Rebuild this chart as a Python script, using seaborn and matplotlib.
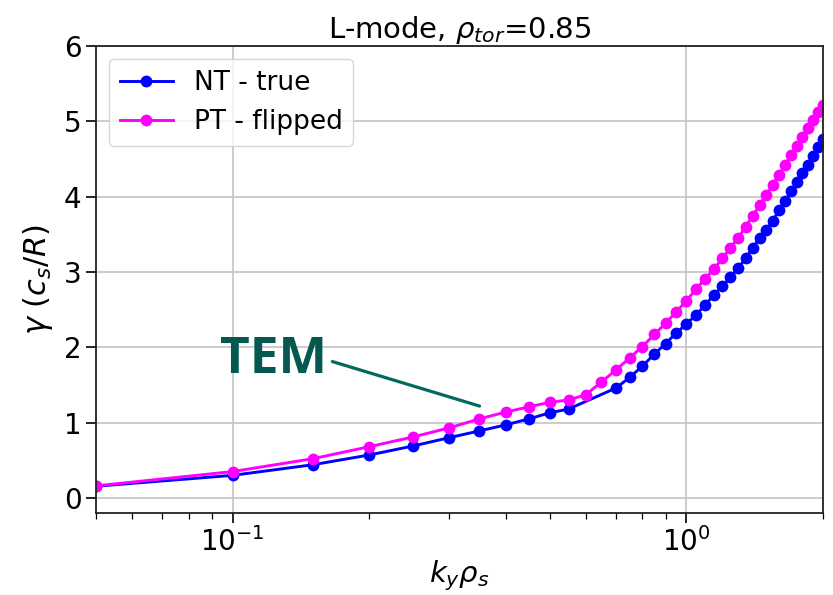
import matplotlib
matplotlib.use("Agg")
import matplotlib.pyplot as plt
import numpy as np
import pandas as pd
import seaborn as sns

# Wavenumber grids (NT scan has no points at 0.60 and 0.65)
ky_nt = [0.05, 0.10, 0.15, 0.20, 0.25, 0.30, 0.35, 0.40, 0.45, 0.50, 0.55,
         0.70, 0.75, 0.80, 0.85, 0.90, 0.95, 1.00, 1.05, 1.10, 1.15, 1.20,
         1.25, 1.30, 1.35, 1.40, 1.45, 1.50, 1.55, 1.60, 1.65, 1.70, 1.75,
         1.80, 1.85, 1.90, 1.95, 2.00]
gamma_nt = [0.155, 0.30, 0.44, 0.57, 0.69, 0.80, 0.89, 0.97, 1.05, 1.13, 1.18,
            1.46, 1.60, 1.75, 1.91, 2.05, 2.19, 2.31, 2.43, 2.56, 2.70, 2.81,
            2.93, 3.05, 3.18, 3.32, 3.45, 3.56, 3.68, 3.82, 3.94, 4.07, 4.19,
            4.31, 4.42, 4.54, 4.66, 4.77]

ky_pt = [0.05, 0.10, 0.15, 0.20, 0.25, 0.30, 0.35, 0.40, 0.45, 0.50, 0.55,
         0.60, 0.65, 0.70, 0.75, 0.80, 0.85, 0.90, 0.95, 1.00, 1.05, 1.10,
         1.15, 1.20, 1.25, 1.30, 1.35, 1.40, 1.45, 1.50, 1.55, 1.60, 1.65,
         1.70, 1.75, 1.80, 1.85, 1.90, 1.95, 2.00]
gamma_pt = [0.16, 0.35, 0.52, 0.68, 0.81, 0.93, 1.05, 1.14, 1.21, 1.27, 1.30,
            1.37, 1.54, 1.70, 1.86, 2.01, 2.17, 2.32, 2.47, 2.62, 2.77, 2.91,
            3.04, 3.18, 3.32, 3.45, 3.60, 3.74, 3.89, 4.02, 4.16, 4.29, 4.42,
            4.55, 4.67, 4.79, 4.91, 5.02, 5.12, 5.22]

series_labels = ["NT - true", "PT - flipped"]
series_colors = ["blue", "magenta"]

title_text = r"L-mode, $\rho_{tor}$=0.85"
xlabel_text = r"$k_y\rho_s$"
ylabel_text = r"$\gamma$ ($c_s/R$)"
note_text = "TEM"
note_xy = (0.35, 1.22)
note_text_xy = (0.123, 1.66)

df = pd.concat([
    pd.DataFrame({"ky": ky_nt, "gamma": gamma_nt, "case": series_labels[0]}),
    pd.DataFrame({"ky": ky_pt, "gamma": gamma_pt, "case": series_labels[1]}),
], ignore_index=True)

fig = plt.figure(figsize=(8.33, 5.95), dpi=100)
ax = fig.add_axes([96 / 833, 1 - 513 / 595, (823 - 96) / 833, (513 - 46) / 595])

for label, color in zip(series_labels, series_colors):
    sub = df[df["case"] == label]
    sns.lineplot(data=sub, x="ky", y="gamma", ax=ax, color=color, label=label,
                 marker="o", markersize=8.5, markeredgecolor=color,
                 markeredgewidth=0, linewidth=2.1, sort=False, estimator=None)

ax.set_xscale("log")
ax.set_xlim(0.05, 2.0)
ax.set_ylim(-0.2, 6)
ax.set_yticks([0, 1, 2, 3, 4, 5, 6])

ax.set_axisbelow(True)
ax.grid(True, which="major", color="#c4c4c4", linewidth=1.2)
for sp in ax.spines.values():
    sp.set_linewidth(1.3)
    sp.set_color("#222222")
ax.tick_params(which="major", labelsize=20, length=7, width=1.2)
ax.tick_params(which="minor", length=4, width=0.9)

ax.set_title(title_text, fontsize=21, pad=6)
ax.set_xlabel(xlabel_text, fontsize=21, labelpad=1)
ax.set_ylabel(ylabel_text, fontsize=22, labelpad=6)

ax.legend(loc="upper left", fontsize=19, handlelength=2.0)

ax.annotate(note_text, xy=note_xy, xytext=note_text_xy, textcoords="data",
            ha="center", va="baseline", fontsize=37, fontweight="bold",
            family="Open Sans", color="#03584F",
            arrowprops=dict(arrowstyle="-", color="#006A5E", lw=2.3,
                            relpos=(1.0, 0.5), shrinkA=2, shrinkB=0))

fig.savefig("out.png", dpi=100)
